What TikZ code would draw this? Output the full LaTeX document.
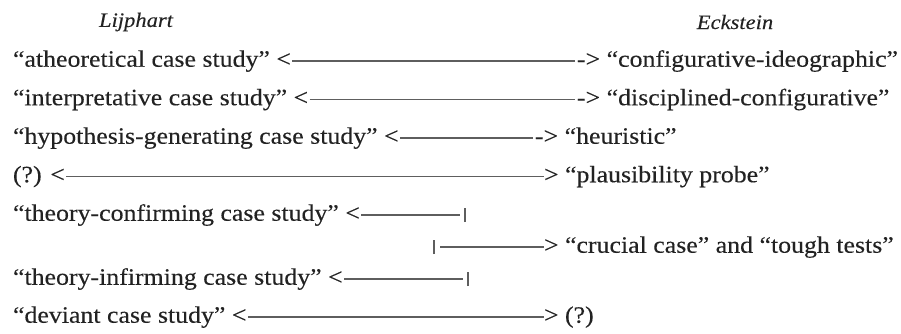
\documentclass[tikz,border=0pt]{standalone}
\usepackage{fontspec}
\setmainfont{Liberation Serif}[FakeStretch=1.1,FakeBold=0.2]
\definecolor{ink}{HTML}{222222}
\definecolor{rule}{HTML}{5E5E5E}
\begin{document}
\begin{tikzpicture}[x=1pt,y=-1pt,
  every node/.style={inner sep=0pt, outer sep=0pt, text=ink},
  term/.style={anchor=west, font=\fontsize{23.5}{28}\selectfont, text height=17pt, text depth=5.5pt},
  head/.style={font=\fontsize{20.5}{24}\selectfont\itshape},
  link/.style={draw=rule, line width=1.8pt},
  tick/.style={draw=rule, line width=1.7pt}]
\useasboundingbox (0,0) rectangle (901,334);

% column headings
\node[head] (hl) at (136,22) {Lijphart};
\node[head] (hr) at (735,22) {Eckstein};

% Lijphart's terms (left) and Eckstein's terms (right)
\node[term] (l1) at (13,61)    {“atheoretical case study” <};
\node[term] (r1) at (577,61)   {-> “configurative-ideographic”};
\node[term] (l2) at (13,99.5)  {“interpretative case study” <};
\node[term] (r2) at (577,99.5) {-> “disciplined-configurative”};
\node[term] (l3) at (13,138)   {“hypothesis-generating case study” <};
\node[term] (r3) at (535,138)  {-> “heuristic”};
\node[term] (l4) at (13,176.5) {(?) <};
\node[term] (r4) at (544,176.5){> “plausibility probe”};
\node[term] (l5) at (13,215)   {“theory-confirming case study” <};
\node[term] (r5) at (544,247)  {> “crucial case” and “tough tests”};
\node[term] (l6) at (13,279)   {“theory-infirming case study” <};
\node[term] (l7) at (13,317)   {“deviant case study” <};
\node[term] (r7) at (544,317)  {> (?)};

% bar ends of the two theory-testing rows and of the shared arrow
\coordinate (t5) at (465,215);
\coordinate (t6) at (468,279);
\coordinate (tc) at (434,247);

% connectors
\draw[link] (l1.east) ++(1.5,0) -- ([xshift=-2pt]r1.west);
\draw[link] (l2.east) ++(1.5,0) -- ([xshift=-2pt]r2.west);
\draw[link] (l3.east) ++(1.5,0) -- ([xshift=-2pt]r3.west);
\draw[link] (l4.east) ++(1.5,0) -- ([xshift=-0.5pt]r4.west);
\draw[link] (l5.east) ++(1.5,0) -- ([xshift=-5pt]t5);
\draw[link] (l6.east) ++(1.5,0) -- ([xshift=-5pt]t6);
\draw[link] ([xshift=6pt]tc) -- ([xshift=-0.5pt]r5.west);
\draw[link] (l7.east) ++(1.5,0) -- ([xshift=-0.5pt]r7.west);
\draw[tick] ([yshift=-7pt]t5) -- ([yshift=7pt]t5);
\draw[tick] ([yshift=-7pt]t6) -- ([yshift=7pt]t6);
\draw[tick] ([yshift=-7pt]tc) -- ([yshift=7pt]tc);
\end{tikzpicture}
\end{document}
